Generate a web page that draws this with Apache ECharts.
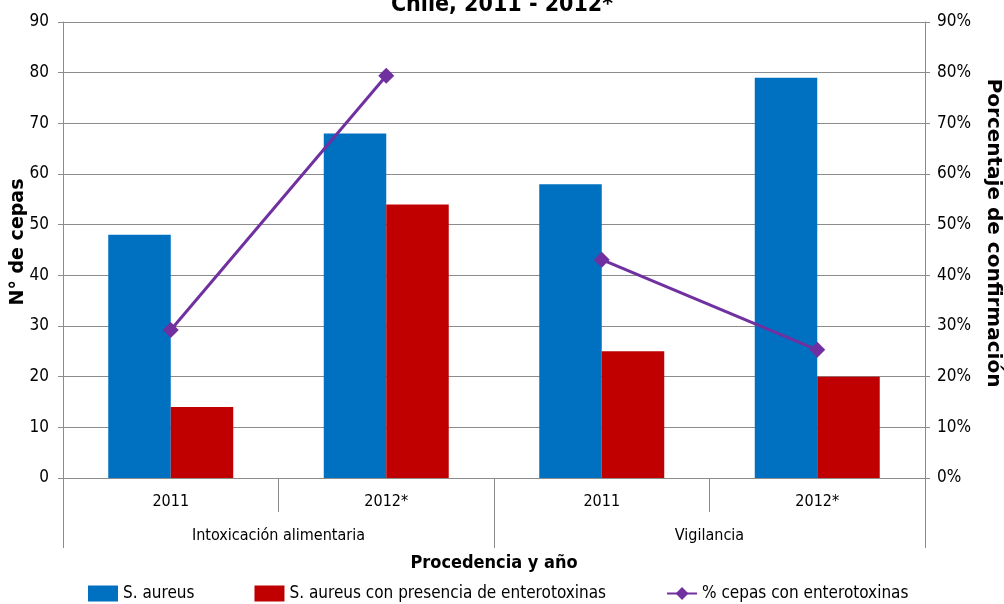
<!DOCTYPE html>
<html>
<head>
<meta charset="utf-8">
<script src="https://cdn.jsdelivr.net/npm/echarts@6/dist/echarts.min.js"></script>
<style>
  html, body { margin: 0; padding: 0; background: #fff; }
  #chart { width: 1004px; height: 604px; }
</style>
</head>
<body>
<div id="chart"></div>
<script>
// Categories: year inside each origin group
const years = ['2011', '2012*', '2011', '2012*'];
const groups = ['Intoxicación alimentaria', 'Vigilancia'];
const yearsPerGroup = 2;

// Strain counts
const sAureus = [48, 68, 58, 79];
const sAureusEnterotox = [14, 54, 25, 20];

// Percentage of strains with enterotoxins, one line per group
const pctIntox = [29.2, 79.4, null, null];
const pctVigil = [null, null, 43.1, 25.3];

const countTicks = [0, 90, 10];
const pctTicks = [0, 90, 10];

const narrow = '"Liberation Sans Narrow", "DejaVu Sans Condensed", "Liberation Sans", sans-serif';
const boldFont = '"DejaVu Sans", Verdana, sans-serif';
const condBold = '"DejaVu Sans Condensed", "DejaVu Sans", sans-serif';
const gridGray = '#8c8c8c';

const chart = echarts.init(document.getElementById('chart'));
const lineName = '% cepas con enterotoxinas';

chart.setOption({
  animation: false,
  title: {
    text: 'Chile, 2011 - 2012*',
    left: 'center',
    top: -11,
    textStyle: { fontFamily: condBold, fontWeight: 'bold', fontSize: 23, color: '#000' }
  },
  grid: { left: 63, right: 79, top: 22, bottom: 126, containLabel: false, outerBoundsMode: 'none' },
  legend: {
    bottom: -3,
    left: 83,
    itemWidth: 30,
    itemHeight: 16,
    itemGap: 60,
    textStyle: { fontFamily: narrow, fontSize: 17, color: '#000' },
    data: [
      { name: 'S. aureus', icon: 'rect' },
      { name: 'S. aureus con presencia de enterotoxinas', icon: 'rect' },
      { name: lineName }
    ]
  },
  xAxis: [
    {
      type: 'category',
      data: years,
      position: 'bottom',
      axisLine: { show: true, lineStyle: { color: gridGray, width: 1 } },
      axisTick: { show: true, length: 34, lineStyle: { color: gridGray } },
      axisLabel: { margin: 16, fontFamily: narrow, fontSize: 16, color: '#000' }
    },
    {
      // outer level: origin groups
      type: 'category',
      data: groups,
      position: 'bottom',
      offset: 34,
      axisLine: { show: false },
      axisTick: { show: false },
      axisLabel: { margin: 16, fontFamily: narrow, fontSize: 16, color: '#000' },
      name: 'Procedencia y año',
      nameLocation: 'middle',
      nameGap: 42,
      nameTextStyle: { fontFamily: condBold, fontWeight: 'bold', fontSize: 18, color: '#000' }
    }
  ],
  yAxis: [
    {
      type: 'value',
      min: countTicks[0], max: countTicks[1], interval: countTicks[2],
      position: 'left',
      axisLine: { show: true, lineStyle: { color: gridGray } },
      axisTick: { show: true, length: 5, lineStyle: { color: gridGray } },
      splitLine: { show: true, lineStyle: { color: gridGray, width: 1 } },
      axisLabel: { margin: 14, fontFamily: narrow, fontSize: 17, color: '#000' },
      name: 'N° de cepas',
      nameLocation: 'middle',
      nameGap: 35,
      nameMoveOverlap: false,
      nameTextStyle: { fontFamily: boldFont, fontWeight: 'bold', fontSize: 19, color: '#000', padding: [0, 0, 0, 16] }
    },
    {
      type: 'value',
      min: pctTicks[0], max: pctTicks[1], interval: pctTicks[2],
      position: 'right',
      axisLine: { show: true, lineStyle: { color: gridGray } },
      axisTick: { show: true, length: 5, lineStyle: { color: gridGray } },
      splitLine: { show: false },
      axisLabel: { margin: 12, fontFamily: narrow, fontSize: 17, color: '#000', formatter: '{value}%' },
      name: 'Porcentaje de confirmación',
      nameLocation: 'middle',
      nameGap: 58,
      nameRotate: -90,
      nameMoveOverlap: false,
      nameTextStyle: { fontFamily: boldFont, fontWeight: 'bold', fontSize: 20, color: '#000', padding: [0, 34, 0, 0] }
    }
  ],
  series: [
    {
      name: 'S. aureus',
      type: 'bar',
      xAxisIndex: 0, yAxisIndex: 0,
      data: sAureus,
      barGap: '0%',
      barCategoryGap: '42%',
      itemStyle: { color: '#0070C0' }
    },
    {
      name: 'S. aureus con presencia de enterotoxinas',
      type: 'bar',
      xAxisIndex: 0, yAxisIndex: 0,
      data: sAureusEnterotox,
      itemStyle: { color: '#C00000' }
    },
    {
      name: lineName,
      type: 'line',
      xAxisIndex: 0, yAxisIndex: 1,
      data: pctIntox,
      connectNulls: false,
      symbol: 'diamond',
      symbolSize: 16,
      lineStyle: { color: '#7030A0', width: 3 },
      itemStyle: { color: '#7030A0' }
    },
    {
      name: lineName,
      type: 'line',
      xAxisIndex: 0, yAxisIndex: 1,
      data: pctVigil,
      connectNulls: false,
      symbol: 'diamond',
      symbolSize: 16,
      lineStyle: { color: '#7030A0', width: 3 },
      itemStyle: { color: '#7030A0' }
    }
  ]
});

// Group separators of the two-level category axis, placed from the axis scale
function drawGroupSeparators() {
  const c0 = chart.convertToPixel({ xAxisIndex: 0 }, 0);
  const c1 = chart.convertToPixel({ xAxisIndex: 0 }, 1);
  const band = c1 - c0;
  const yBase = chart.convertToPixel({ yAxisIndex: 0 }, 0);
  const lines = [];
  for (let g = 0; g <= groups.length; g++) {
    const x = Math.round(c0 - band / 2 + g * yearsPerGroup * band) + 0.5;
    lines.push({
      type: 'line',
      silent: true,
      shape: { x1: x, y1: yBase + 34, x2: x, y2: yBase + 70 },
      style: { stroke: gridGray, lineWidth: 1 }
    });
  }
  chart.setOption({ graphic: lines });
}
drawGroupSeparators();
</script>
</body>
</html>
